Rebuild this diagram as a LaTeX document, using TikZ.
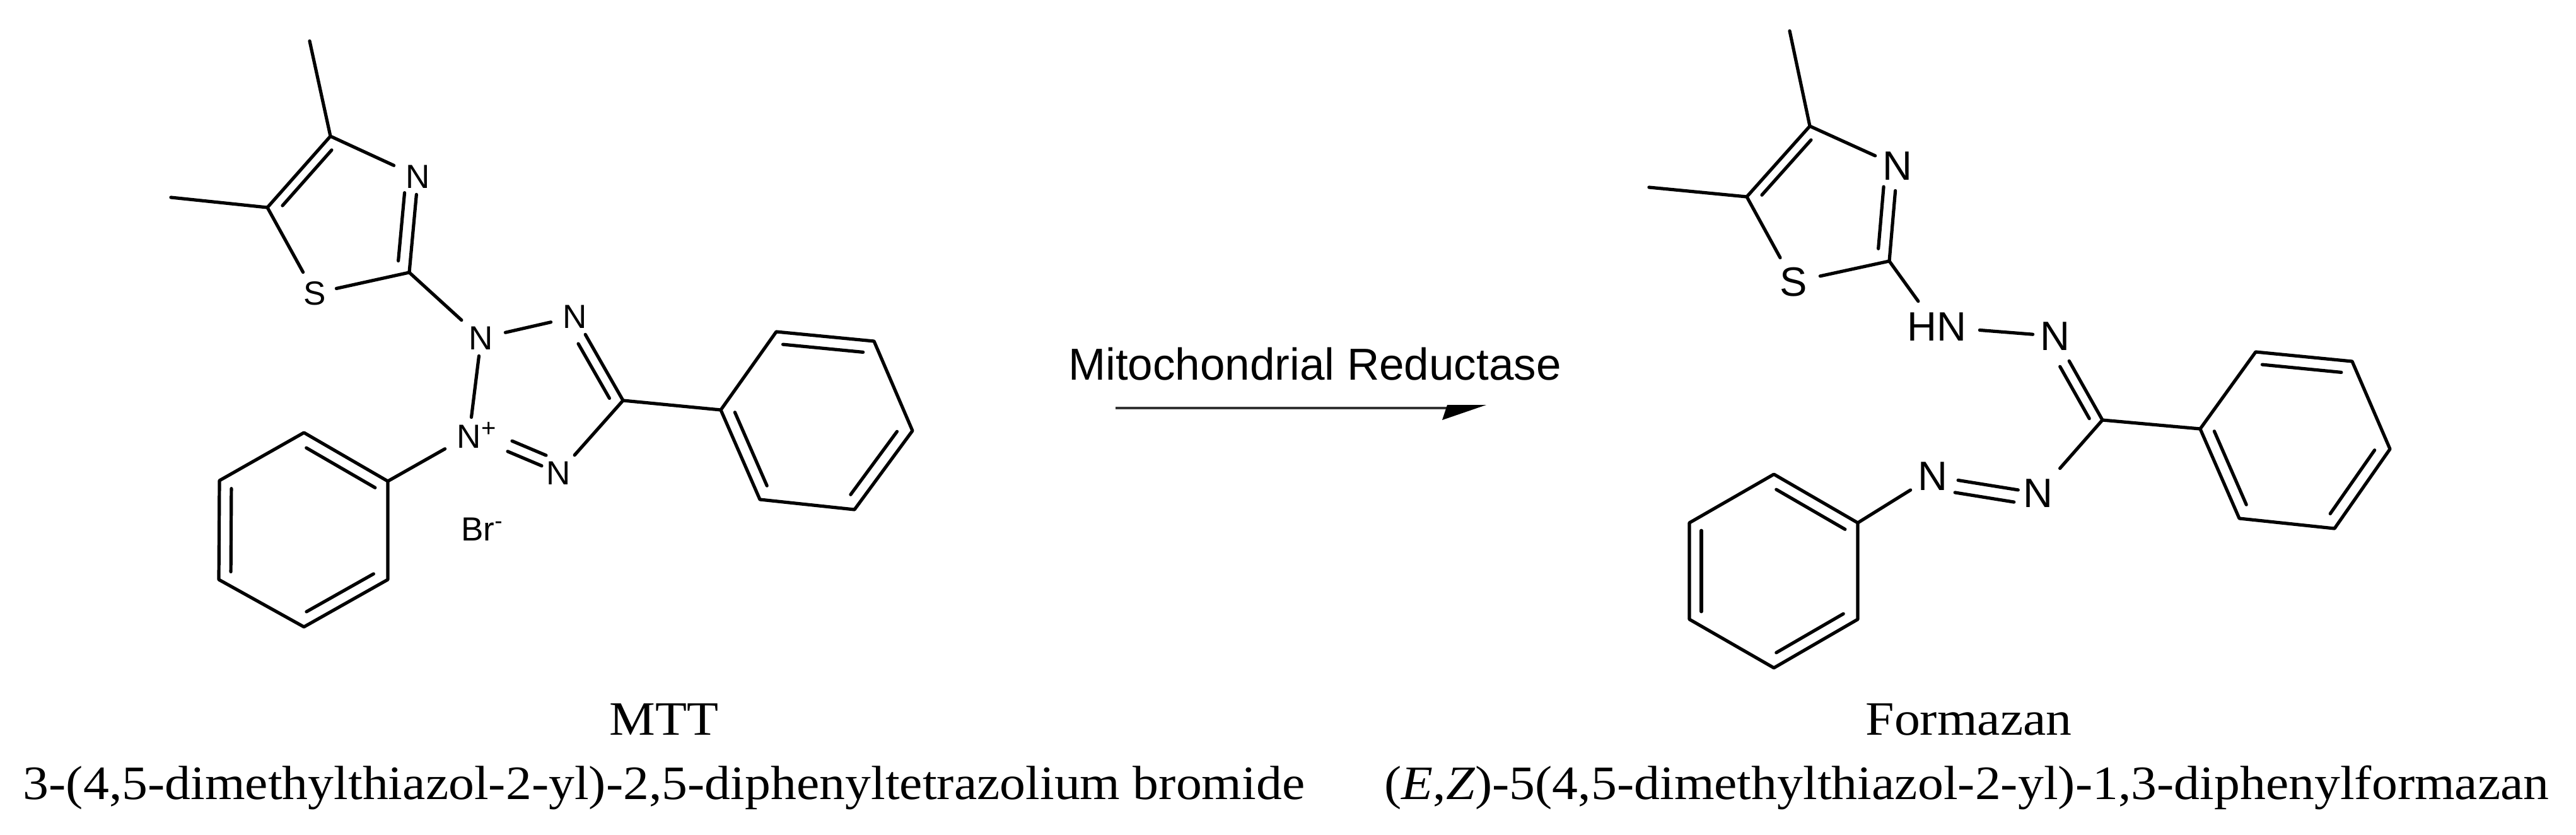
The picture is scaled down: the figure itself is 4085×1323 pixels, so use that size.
\documentclass[tikz,border=0pt]{standalone}
\usepackage{fontspec}
\usetikzlibrary{calc}
\setmainfont[FakeStretch=1.076]{Liberation Serif}
\newfontfamily\atomfont{Liberation Sans}
\newcommand{\innerbond}[5]{\draw[bond] ($(#1)!#3!(#2)!#5!90:(#2)$) -- ($(#1)!#4!(#2)!#5!90:(#2)$);}
\tikzset{
  bond/.style={line width=2.6pt,line cap=round,line join=round,black},
  atomA/.style={inner sep=0pt,minimum width=38pt,minimum height=28pt,font=\atomfont\fontsize{26.5pt}{30pt}\selectfont},
  atomB/.style={inner sep=0pt,minimum width=35pt,minimum height=39pt,font=\atomfont\fontsize{32.5pt}{36pt}\selectfont},
  caption/.style={inner sep=0pt,anchor=base,font=\fontsize{38pt}{44pt}\selectfont},
  enzyme/.style={inner sep=0pt,anchor=base,font=\atomfont\fontsize{35.5pt}{40pt}\selectfont},
}
\begin{document}
\begin{tikzpicture}[x=0.5pt,y=-0.5pt]
\useasboundingbox (0,0) rectangle (4085,1323);
% ---------- MTT ----------
\coordinate (mMeA) at (491,65);
\coordinate (mC4) at (524,216);
\coordinate (mC5) at (424,329);
\coordinate (mMeB) at (271,313);
\coordinate (mC2) at (649,432);
\coordinate (mC) at (988,635);
\node[atomA] (mNt) at (663,280) {N};
\node[atomA,minimum width=34pt,minimum height=33pt] (mS) at (499,465) {S};
\node[atomA] (mN2) at (763,536) {N};
\node[atomA] (mN3) at (912,502) {N};
\node[atomA] (mN4) at (886,750) {N};
\node[atomA] (mNp) at (744,690) {N\rlap{\raisebox{9pt}{\fontsize{20pt}{22pt}\selectfont +}}};
\node[atomA,anchor=base west,minimum width=0pt,minimum height=0pt] (mBr) at (731,857) {Br\textsuperscript{-}};
\coordinate (r1) at (1143,650); \coordinate (r2) at (1231,526); \coordinate (r3) at (1386,541);
\coordinate (r4) at (1447,683); \coordinate (r5) at (1355,808); \coordinate (r6) at (1205,792);
\coordinate (l1) at (615,763); \coordinate (l2) at (482,686); \coordinate (l3) at (348,762);
\coordinate (l4) at (347,919); \coordinate (l5) at (482,994); \coordinate (l6) at (615,919);
\draw[bond] (mMeA) -- (mC4) -- (mNt);
\draw[bond] (mMeB) -- (mC5) -- (mC4);
\draw[bond] (mC5) -- (mS);
\draw[bond] (mS) -- (mC2) -- (mNt);
\draw[bond] (mC2) -- (mN2);
\draw[bond] (mN2) -- (mN3);
\draw[bond] (mN2) -- (mNp);
\draw[bond] (mN3) -- (mC) -- (mN4);
\draw[bond] (mC) -- (r1);
\draw[bond] (mNp) -- (l1);
\draw[bond] (r1) -- (r2) -- (r3) -- (r4) -- (r5) -- (r6) -- cycle;
\draw[bond] (l1) -- (l2) -- (l3) -- (l4) -- (l5) -- (l6) -- cycle;
\innerbond{mC4}{mC5}{.1}{.88}{8pt}
\innerbond{mC2}{mNt}{.11}{.82}{9.5pt}
\innerbond{mC}{mN3}{.09}{.74}{8.5pt}
\innerbond{mNp}{mN4}{.43}{.81}{0pt}
\innerbond{mNp}{mN4}{.43}{.81}{9pt}
\innerbond{r2}{r3}{.08}{.9}{-9.5pt}
\innerbond{r4}{r5}{.1}{.9}{-9.5pt}
\innerbond{r6}{r1}{.1}{.92}{-9.5pt}
\innerbond{l1}{l2}{.08}{.9}{9.5pt}
\innerbond{l3}{l4}{.08}{.92}{9.5pt}
\innerbond{l5}{l6}{.1}{.9}{9.5pt}
% ---------- arrow ----------
\coordinate (arrS) at (1769,647);
\coordinate (arrE) at (2300,647);
\coordinate (tipA) at (2357,642);
\coordinate (tipB) at (2295,642);
\coordinate (tipC) at (2287,666);
\draw[line width=2.4pt,black!80] (arrS) -- (arrE);
\fill[black] (tipA) -- (tipB) -- (tipC) -- cycle;
\node[enzyme] (enz) at (2085,602) {Mitochondrial Reductase};
% ---------- Formazan ----------
\coordinate (fMeA) at (2838,49);
\coordinate (fC4) at (2870,200);
\coordinate (fC5) at (2770,312);
\coordinate (fMeB) at (2615,297);
\coordinate (fC2) at (2996,414);
\coordinate (fC) at (3334,666);
\node[atomB] (fNt) at (3009,263) {N};
\node[atomB,minimum width=42pt,minimum height=38pt] (fS) at (2844,447) {S};
\node[atomB,minimum width=68pt,minimum height=40pt] (fHN) at (3071,518) {HN};
\node[atomB] (fN) at (3259,533) {N};
\node[atomB] (fNb) at (3232,782) {N};
\node[atomB] (fNa) at (3065,755) {N};
\coordinate (p1) at (3489,680); \coordinate (p2) at (3577,558); \coordinate (p3) at (3730,573);
\coordinate (p4) at (3790,712); \coordinate (p5) at (3702,838); \coordinate (p6) at (3551,822);
\coordinate (g1) at (2946,829); \coordinate (g2) at (2813,752); \coordinate (g3) at (2679,829);
\coordinate (g4) at (2679,982); \coordinate (g5) at (2813,1059); \coordinate (g6) at (2946,982);
\draw[bond] (fMeA) -- (fC4) -- (fNt);
\draw[bond] (fMeB) -- (fC5) -- (fC4);
\draw[bond] (fC5) -- (fS);
\draw[bond] (fS) -- (fC2) -- (fNt);
\draw[bond] (fC2) -- (fHN);
\draw[bond] (fHN) -- (fN);
\draw[bond] (fN) -- (fC) -- (fNb);
\draw[bond] (fC) -- (p1);
\draw[bond] (fNa) -- (g1);
\draw[bond] (p1) -- (p2) -- (p3) -- (p4) -- (p5) -- (p6) -- cycle;
\draw[bond] (g1) -- (g2) -- (g3) -- (g4) -- (g5) -- (g6) -- cycle;
\innerbond{fC4}{fC5}{.1}{.88}{8pt}
\innerbond{fC2}{fNt}{.12}{.77}{9.5pt}
\innerbond{fC}{fN}{.08}{.7}{8.5pt}
\innerbond{fNa}{fNb}{.24}{.81}{0pt}
\innerbond{fNa}{fNb}{.23}{.79}{-10pt}
\innerbond{p2}{p3}{.08}{.9}{-9.5pt}
\innerbond{p4}{p5}{.1}{.9}{-9.5pt}
\innerbond{p6}{p1}{.1}{.92}{-9.5pt}
\innerbond{g1}{g2}{.08}{.9}{9.5pt}
\innerbond{g3}{g4}{.08}{.92}{9.5pt}
\innerbond{g5}{g6}{.1}{.9}{9.5pt}
% ---------- captions ----------
\node[caption] (capA) at (1053,1165) {MTT};
\node[caption] (capB) at (1053,1267) {3-(4,5-dimethylthiazol-2-yl)-2,5-diphenyltetrazolium bromide};
\node[caption] (capC) at (3122,1165) {Formazan};
\node[caption] (capD) at (3119,1267) {(\textit{E},\textit{Z})-5(4,5-dimethylthiazol-2-yl)-1,3-diphenylformazan};
\end{tikzpicture}
\end{document}
